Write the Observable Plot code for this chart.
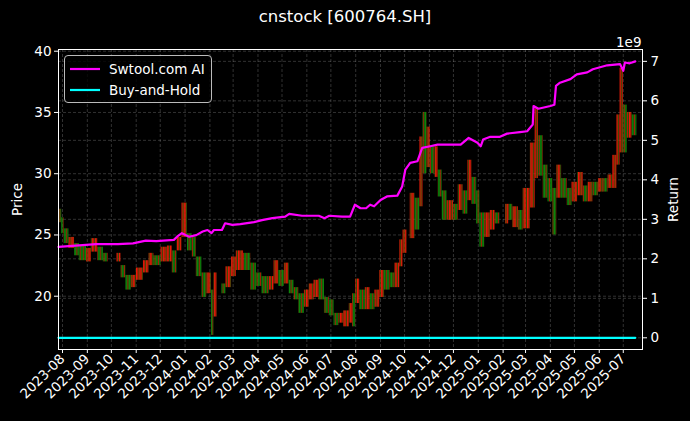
<!DOCTYPE html>
<html><head><meta charset="utf-8">
<script src="https://cdn.jsdelivr.net/npm/d3@7"></script>
<script src="https://cdn.jsdelivr.net/npm/@observablehq/plot@0.6"></script>
<style>
body{margin:0;background:#000;}
#wrap{position:relative;width:690px;height:421px;background:#000;font-family:"DejaVu Sans",sans-serif;color:#fff;overflow:hidden;}
#title{height:30px;text-align:center;font-size:16.5px;line-height:33px;}
#legend{position:absolute;left:64px;top:55px;width:146px;height:46px;border:1px solid #bbb;border-radius:4px;background:rgba(0,0,0,0.8);font-size:13.5px;}
#legend .row{position:absolute;left:0;height:20px;display:flex;align-items:center;}
#legend svg{margin-left:5px;margin-right:9px;}
</style></head><body>
<div id="wrap"><div id="title">cnstock [600764.SH]</div><div id="chart"></div><div id="legend"></div></div>
<script>
// ---------- data ----------
const xTickLabels = ["2023-08","2023-09","2023-10","2023-11","2023-12","2024-01","2024-02","2024-03","2024-04","2024-05","2024-06","2024-07","2024-08","2024-09","2024-10","2024-11","2024-12","2025-01","2025-02","2025-03","2025-04","2025-05","2025-06","2025-07"];
const priceTicks = [20, 25, 30, 35, 40];
const returnTicks = [0, 1, 2, 3, 4, 5, 6, 7];

// candle periods (start dates), price range and direction (u = up/red, d = down/green); null = market closed
const candleStart = ["2023-07-27","2023-07-31","2023-08-03","2023-08-09","2023-08-16","2023-08-22","2023-08-31","2023-09-06","2023-09-14","2023-09-21","2023-09-27",
"2023-10-08","2023-10-13","2023-10-19","2023-10-26","2023-11-01","2023-11-10","2023-11-17","2023-11-23","2023-12-02","2023-12-10","2023-12-16","2023-12-22","2023-12-28",
"2024-01-04","2024-01-10","2024-01-15","2024-01-22","2024-01-28","2024-02-03","2024-02-06","2024-02-10","2024-02-16","2024-02-21","2024-02-28","2024-03-05","2024-03-14","2024-03-23","2024-03-30",
"2024-04-06","2024-04-15","2024-04-21","2024-04-27","2024-05-04","2024-05-10","2024-05-16","2024-05-22","2024-05-29","2024-06-04","2024-06-10","2024-06-16","2024-06-23","2024-06-29",
"2024-07-05","2024-07-11","2024-07-17","2024-07-24","2024-07-28","2024-08-01","2024-08-06","2024-08-13","2024-08-19","2024-08-25","2024-08-31","2024-09-06","2024-09-13","2024-09-19","2024-09-25","2024-09-29","2024-10-04",
"2024-10-08","2024-10-14","2024-10-20","2024-10-24","2024-10-29","2024-11-02","2024-11-08","2024-11-12","2024-11-17","2024-11-23","2024-12-01","2024-12-07","2024-12-13","2024-12-19","2024-12-24","2024-12-30",
"2025-01-03","2025-01-09","2025-01-16","2025-01-22","2025-01-28","2025-02-04","2025-02-08","2025-02-13","2025-02-20","2025-02-26","2025-03-07","2025-03-13","2025-03-17","2025-03-23","2025-03-29",
"2025-04-04","2025-04-09","2025-04-15","2025-04-22","2025-04-28","2025-05-05","2025-05-12","2025-05-18","2025-05-24","2025-05-31","2025-06-06","2025-06-12","2025-06-18","2025-06-23","2025-06-27",
"2025-07-01","2025-07-06","2025-07-12"];
const candleEnd = "2025-07-18";
const candleLow = [26.0,25.1,24.3,23.9,23.3,22.9,22.8,23.6,22.9,22.8,null,
22.8,21.5,20.5,20.7,21.3,21.9,22.5,22.5,22.8,22.8,21.9,23.7,24.8,
23.7,23.2,21.6,19.9,20.2,16.8,18.3,null,20.2,20.7,21.6,22.1,22.1,20.5,20.8,
20.2,20.5,21.0,20.8,21.0,20.2,19.7,18.6,19.1,19.7,19.9,19.7,18.6,18.4,
17.6,17.8,17.5,17.8,17.5,19.4,18.9,18.9,18.9,19.1,19.9,20.5,20.7,20.7,22.4,23.5,null,
24.7,25.4,27.3,30.0,30.5,30.0,29.7,28.1,26.2,26.2,26.2,27.0,26.7,27.8,27.5,25.9,
24.0,24.8,25.4,25.9,null,25.9,26.2,25.6,25.4,25.5,27.2,29.6,29.8,28.0,27.7,
25.0,28.0,28.0,27.4,27.7,28.2,27.7,27.7,28.2,28.5,28.5,28.8,28.8,30.7,31.7,
31.7,32.9,33.1];
const candleHigh = [27.1,26.4,25.5,24.8,24.3,24.1,23.9,24.7,24.0,23.5,null,
23.5,22.5,21.7,21.7,22.3,22.9,23.5,23.3,24.0,24.1,23.7,24.8,27.6,
25.1,24.8,23.2,21.9,21.9,20.5,21.9,null,21.0,22.4,23.2,23.7,23.5,22.7,21.9,
21.6,21.6,22.9,22.1,22.7,21.3,20.7,20.2,20.5,21.0,21.3,21.4,19.9,19.7,
18.6,18.6,18.8,19.4,20.2,21.4,20.5,20.7,20.2,20.5,22.1,22.1,21.9,22.7,24.6,25.4,null,
28.4,28.0,33.0,35.0,33.8,32.2,32.2,30.3,28.6,27.8,27.5,29.1,28.6,31.1,29.7,28.6,
26.8,26.8,27.0,26.8,null,27.5,27.5,27.3,27.0,28.8,32.5,35.3,33.1,30.7,29.6,
28.8,30.7,29.6,28.8,29.3,30.1,29.0,29.3,29.3,29.6,29.6,29.9,31.5,34.8,38.6,
35.6,35.0,34.8];
const candleDir = ["d","d","d","u","d","d","u","u","d","d",null,
"u","d","d","u","u","u","u","d","u","u","d","u","u",
"d","d","d","d","u","d","u",null,"d","u","u","u","d","d","d",
"d","u","u","d","u","d","d","d","u","u","u","d","d","d",
"d","u","u","u","d","u","d","u","d","u","u","d","d","u","u","u",null,
"u","d","u","d","u","d","u","d","d","u","d","u","d","u","d","d",
"d","u","u","d",null,"u","d","u","d","u","u","u","d","d","d",
"d","u","d","d","u","u","d","u","d","u","d","u","u","u","u",
"d","u","d"];

// strategy return (units of 1e9)
const stratDates = ["2023-07-27","2023-09-12","2023-10-09","2023-10-28","2023-11-13","2023-11-26","2023-12-18","2023-12-22","2023-12-28",
"2024-01-06","2024-01-15","2024-01-23","2024-01-29","2024-02-03","2024-02-06","2024-02-16","2024-02-20","2024-02-29","2024-03-10","2024-03-27",
"2024-04-06","2024-04-19","2024-05-05","2024-05-10","2024-05-26","2024-06-16","2024-06-23","2024-06-29","2024-07-15","2024-07-25","2024-07-31",
"2024-08-07","2024-08-14","2024-08-19","2024-08-24","2024-09-01","2024-09-09","2024-09-22","2024-09-28","2024-10-02","2024-10-08","2024-10-17",
"2024-10-23","2024-11-02","2024-11-11","2024-12-10","2024-12-20","2024-12-31","2025-01-04","2025-01-07","2025-01-16","2025-01-28","2025-02-06",
"2025-02-22","2025-03-03","2025-03-10","2025-03-11","2025-03-17","2025-04-01","2025-04-06","2025-04-08","2025-04-13","2025-04-26","2025-05-04",
"2025-05-17","2025-05-24","2025-06-11","2025-06-27","2025-07-01","2025-07-03","2025-07-09","2025-07-16"];
const stratValues = [2.30,2.37,2.37,2.39,2.46,2.45,2.48,2.56,2.65,
2.56,2.60,2.69,2.73,2.65,2.73,2.73,2.90,2.86,2.88,2.93,
2.98,3.03,3.07,3.14,3.09,3.09,3.03,3.09,3.07,3.07,3.37,
3.28,3.28,3.37,3.33,3.49,3.58,3.60,3.83,4.26,4.43,4.47,
4.81,4.85,4.89,4.89,5.06,4.94,4.85,5.02,5.09,5.09,5.17,
5.21,5.23,5.40,5.87,5.80,5.87,5.90,6.38,6.46,6.55,6.67,
6.72,6.80,6.90,6.93,6.76,6.97,6.95,7.00];

// buy-and-hold return (units of 1e9)
const bhDates = ["2023-07-27","2025-07-16"];
const bhValues = [0, 0];

const seriesNames = ["Swtool.com AI", "Buy-and-Hold"];
const seriesColors = ["#ff00ff", "#00ffff"];

// ---------- scales ----------
const yPrice = [15.65, 40.14];
const yReturn = [-0.296, 7.30];
const toPrice = d3.scaleLinear(yReturn, yPrice);
const xDomain = [new Date("2023-07-27"), new Date("2025-07-25")];

const candles = candleStart.map((d, i) => ({
  x1: new Date(d),
  x2: new Date(i + 1 < candleStart.length ? candleStart[i + 1] : candleEnd),
  lo: candleLow[i], hi: candleHigh[i], dir: candleDir[i]
})).filter(d => d.lo != null);
const strat = stratDates.map((d, i) => ({date: new Date(d), r: stratValues[i]}));
const bh = bhDates.map((d, i) => ({date: new Date(d), r: bhValues[i]}));
const xTicks = xTickLabels.map(s => new Date(s + "-01"));

const gridStyle = {stroke: "#fff", strokeOpacity: 0.28, strokeDasharray: "3,2", strokeWidth: 0.7};

const chart = Plot.plot({
  width: 690, height: 391,
  marginTop: 19, marginBottom: 72, marginLeft: 58, marginRight: 48,
  style: {background: "#000", color: "#fff", fontFamily: "DejaVu Sans", fontSize: "13.5px"},
  x: {type: "utc", domain: xDomain},
  y: {domain: yPrice},
  marks: [
    Plot.gridX(xTicks, gridStyle),
    Plot.gridY(priceTicks, gridStyle),
    Plot.gridY(returnTicks.map(toPrice), gridStyle),
    Plot.rect(candles.filter(d => d.dir === "u"), {x1: "x1", x2: "x2", y1: "lo", y2: "hi", fill: "url(#candleUp)"}),
    Plot.rect(candles.filter(d => d.dir === "d"), {x1: "x1", x2: "x2", y1: "lo", y2: "hi", fill: "url(#candleDown)"}),
    Plot.line(strat, {x: "date", y: d => toPrice(d.r), stroke: seriesColors[0], strokeWidth: 2.2}),
    Plot.line(bh, {x: "date", y: d => toPrice(d.r), stroke: seriesColors[1], strokeWidth: 2.2}),
    Plot.frame({stroke: "#fff", strokeWidth: 1}),
    Plot.axisX(xTicks, {anchor: "bottom", tickRotate: -45, tickFormat: d3.utcFormat("%Y-%m"),
      tickSize: 4, tickPadding: 3, label: null, stroke: "#fff"}),
    Plot.axisY(priceTicks, {anchor: "left", tickSize: 4, tickPadding: 3, label: null, stroke: "#fff"}),
    Plot.axisY(returnTicks.map(toPrice), {anchor: "right", tickSize: 4, tickPadding: 4, label: null, stroke: "#fff",
      tickFormat: v => String(Math.round(toPrice.invert(v)))}),
    Plot.text(["Price"], {frameAnchor: "left", dx: -41, rotate: -90, fill: "#fff", textAnchor: "middle", lineAnchor: "middle"}),
    Plot.text(["Return"], {frameAnchor: "right", dx: 31, rotate: -90, fill: "#fff", textAnchor: "middle", lineAnchor: "middle"}),
    Plot.text(["1e9"], {frameAnchor: "top-right", dx: -1, dy: -3, fill: "#fff", textAnchor: "end", lineAnchor: "bottom"})
  ]
});
// thin-candle texture for the candle bands
const ns = "http://www.w3.org/2000/svg";
const defs = document.createElementNS(ns, "defs");
defs.innerHTML = `
<pattern id="candleUp" patternUnits="userSpaceOnUse" width="3.4" height="4">
  <rect x="0" y="0" width="1.5" height="4" fill="#ee1a08"/>
  <rect x="1.7" y="0" width="1.1" height="4" fill="#cc2a05" fill-opacity="0.85"/>
  <rect x="2.8" y="0" width="0.6" height="4" fill="#1f7a0a" fill-opacity="0.8"/>
</pattern>
<pattern id="candleDown" patternUnits="userSpaceOnUse" width="3.4" height="4">
  <rect x="0" y="0" width="1.4" height="4" fill="#0b8a0b"/>
  <rect x="1.6" y="0" width="1.0" height="4" fill="#c8280a" fill-opacity="0.8"/>
  <rect x="2.7" y="0" width="0.7" height="4" fill="#0a7a0a"/>
</pattern>`;
chart.insertBefore(defs, chart.firstChild);
document.getElementById("chart").appendChild(chart);

// legend
const leg = document.getElementById("legend");
seriesNames.forEach((name, i) => {
  const row = document.createElement("div");
  row.className = "row";
  row.style.top = (3 + i * 21) + "px";
  row.innerHTML = `<svg width="30" height="6"><line x1="0" x2="30" y1="3" y2="3" stroke="${seriesColors[i]}" stroke-width="2.2"/></svg><span>${name}</span>`;
  leg.appendChild(row);
});
</script>
</body></html>
